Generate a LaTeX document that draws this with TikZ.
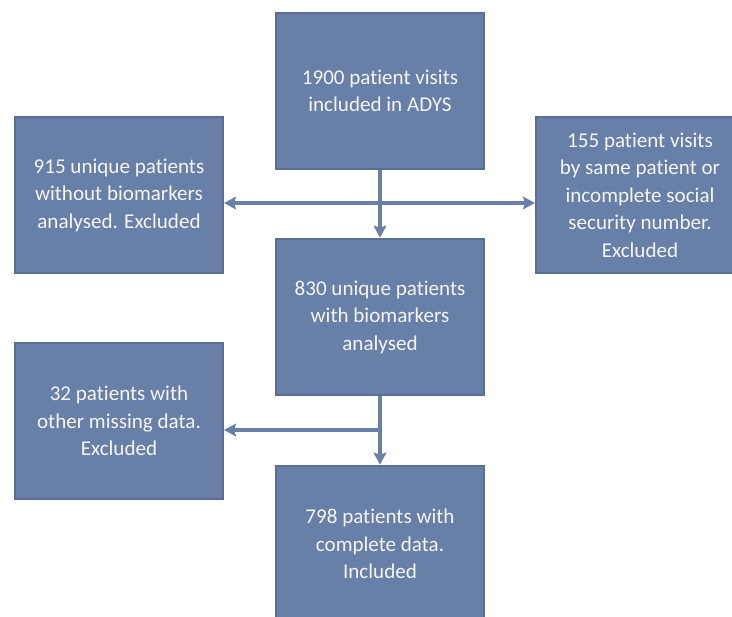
\documentclass[tikz,border=0pt]{standalone}
\usepackage{fontspec}
\setmainfont{Carlito}[Ligatures=NoCommon]
\usetikzlibrary{arrows.meta}

\definecolor{boxfill}{RGB}{104,127,168}
\definecolor{boxline}{RGB}{90,110,148}

\tikzset{every picture/.style={line width=0.75pt}}
\tikzset{
  flowbox/.style={draw=boxline, line width=1.5pt, fill=boxfill, text=white!96!black,
    minimum width=156pt, minimum height=117.5pt, align=center, inner sep=0pt,
    font=\fontsize{15.8}{20.6}\selectfont},
  flowarr/.style={draw=boxfill, line width=2.8pt,
    -{Stealth[length=9pt, width=9.5pt, inset=1.5pt]}},
}

\begin{document}
\begin{tikzpicture}[x=0.75pt,y=0.75pt,yscale=-1,xscale=1]
	\useasboundingbox (0,0) rectangle (732,617);
	\clip (0,0) rectangle (732,617);

	%Shape: Rectangle
	\node [flowbox] (visits) at (380,91) {1900 patient visits\\included in ADYS};
	%Shape: Rectangle
	\node [flowbox] (nobio) at (119,195) {915 unique patients\\without biomarkers\\analysed. Excluded};
	%Shape: Rectangle
	\node [flowbox] (samevisit) at (640,195) {155 patient visits\\by same patient or\\incomplete social\\security number.\\Excluded};
	%Shape: Rectangle
	\node [flowbox] (bio) at (380,317) {830 unique patients\\with biomarkers\\analysed};
	%Shape: Rectangle
	\node [flowbox] (missing) at (119,421) {32 patients with\\other missing data.\\Excluded};
	%Shape: Rectangle
	\node [flowbox] (complete) at (380,544) {798 patients with\\complete data.\\Included};

	\coordinate (split1) at (380,203);
	\coordinate (split2) at (380,430);

	%Straight Lines
	\draw [flowarr] (visits.south) -- (bio.north);
	\draw [flowarr] (split1) -- (split1 -| nobio.east);
	\draw [flowarr] (split1) -- (split1 -| samevisit.west);
	%Straight Lines
	\draw [flowarr] (bio.south) -- (complete.north);
	\draw [flowarr] (split2) -- (split2 -| missing.east);

\end{tikzpicture}
\end{document}
